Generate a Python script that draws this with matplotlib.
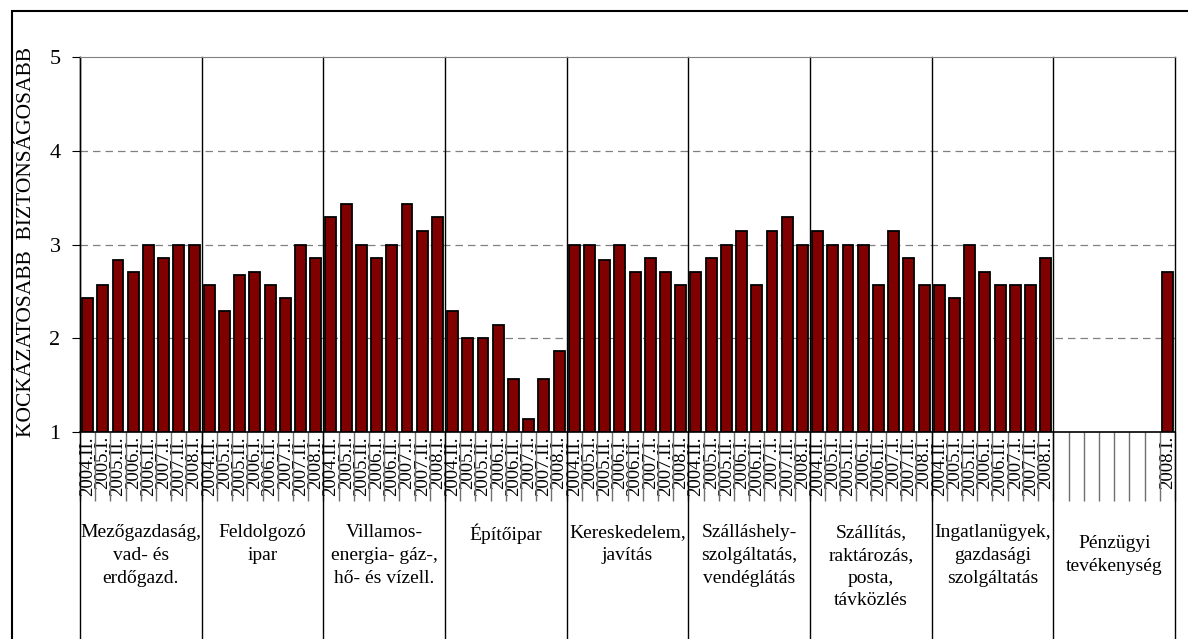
import numpy as np
import matplotlib.pyplot as plt
from matplotlib.patches import Rectangle
import matplotlib.transforms as mtransforms

plt.rcParams['font.family'] = ['Liberation Serif', 'DejaVu Serif']

# periods within every sector
periods = ["2004.II.", "2005.I.", "2005.II.", "2006.I.", "2006.II.", "2007.I.", "2007.II.", "2008.I."]

sectors = ["Mezőgazdaság,\nvad- és\nerdőgazd.",
           "Feldolgozó\nipar",
           "Villamos-\nenergia- gáz-,\nhő- és vízell.",
           "Építőipar",
           "Kereskedelem,\njavítás",
           "Szálláshely-\nszolgáltatás,\nvendéglátás",
           "Szállítás,\nraktározás,\nposta,\ntávközlés",
           "Ingatlanügyek,\ngazdasági\nszolgáltatás",
           "Pénzügyi\ntevékenység"]

mezogazdasag = [2.43, 2.57, 2.83, 2.71, 3.00, 2.86, 3.00, 3.00]
feldolgozo   = [2.57, 2.29, 2.67, 2.71, 2.57, 2.43, 3.00, 2.86]
villamos     = [3.29, 3.43, 3.00, 2.86, 3.00, 3.43, 3.14, 3.29]
epitoipar    = [2.29, 2.00, 2.00, 2.14, 1.57, 1.14, 1.57, 1.86]
kereskedelem = [3.00, 3.00, 2.83, 3.00, 2.71, 2.86, 2.71, 2.57]
szallashely  = [2.71, 2.86, 3.00, 3.14, 2.57, 3.14, 3.29, 3.00]
szallitas    = [3.14, 3.00, 3.00, 3.00, 2.57, 3.14, 2.86, 2.57]
ingatlan     = [2.57, 2.43, 3.00, 2.71, 2.57, 2.57, 2.57, 2.86]
penzugyi     = [np.nan] * 7 + [2.71]

values = np.concatenate([mezogazdasag, feldolgozo, villamos, epitoipar,
                         kereskedelem, szallashely, szallitas, ingatlan, penzugyi])

n_per = len(periods)
n_groups = len(sectors)
n = n_per * n_groups
x = np.arange(n) + 0.5

# tick labels: last sector only has the 2008.I. value
labels = periods * (n_groups - 1) + [""] * 7 + ["2008.I."]

fig = plt.figure(figsize=(11.88, 6.39), dpi=100)
ax = fig.add_axes([80 / 1188, 1 - 432 / 639, 1095 / 1188, 375 / 639])

ax.bar(x, values - 1, bottom=1, width=0.72, color="#800000",
       edgecolor="black", linewidth=1.3, zorder=3)

ax.set_xlim(0, n)
ax.set_ylim(1, 5)
ax.set_yticks([1, 2, 3, 4, 5])
ax.tick_params(axis="y", labelsize=16, length=6, width=0.8, pad=8)

for yv in [2, 3, 4]:
    ax.axhline(yv, color="#808080", linestyle=(0, (6, 4)), linewidth=0.9, zorder=1)

# x ticks: labels at slot centres, lines at slot borders
ax.set_xticks(x)
ax.set_xticklabels(labels, rotation=90, fontsize=13.5)
ax.tick_params(axis="x", length=0, pad=3)
ax.set_xticks(np.arange(n + 1), minor=True)
ax.tick_params(axis="x", which="minor", length=50, width=1.0, color="#707070")

# sector separators reach down to the bottom of the frame
trans = mtransforms.blended_transform_factory(ax.transData, ax.transAxes)
for g in range(n_groups + 1):
    ax.plot([g * n_per, g * n_per], [1, -0.6], transform=trans, color="black",
            linewidth=1.0, clip_on=False, zorder=2)

for g, name in enumerate(sectors):
    ytop = -0.245 if g < n_groups - 1 else -0.275
    ax.text(g * n_per + n_per / 2, ytop, name, transform=trans, ha="center",
            va="top", fontsize=14, linespacing=1.45)

ax.spines["top"].set_color("#808080")
ax.spines["right"].set_visible(False)
ax.spines["left"].set_linewidth(1.0)
ax.spines["bottom"].set_linewidth(1.2)

fig.text(27 / 1188, 1 - 242 / 639, "KOCKÁZATOSABB  BIZTONSÁGOSABB", rotation=90,
         ha="center", va="center", fontsize=15.5)

# outer frame
fig.add_artist(Rectangle((12 / 1188, -0.01), 1.0, 1 - 11 / 639 + 0.01,
                         transform=fig.transFigure, fill=False,
                         edgecolor="black", linewidth=1.5))

fig.savefig("out.png", dpi=100)
